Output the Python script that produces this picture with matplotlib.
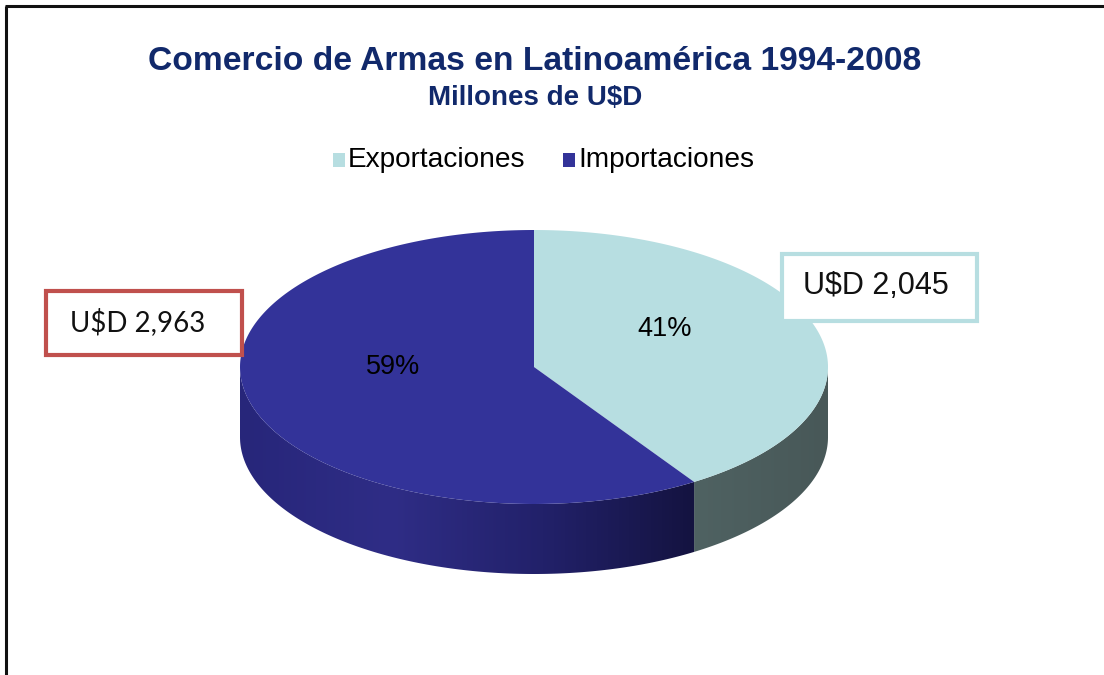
import numpy as np
import matplotlib
matplotlib.use("Agg")
import matplotlib.pyplot as plt
from matplotlib.patches import Polygon, Rectangle
from matplotlib.colors import LinearSegmentedColormap

# ---- data ----
categories = ["Exportaciones", "Importaciones"]
values = [2045, 2963]
value_labels = ["U$D 2,045", "U$D 2,963"]
title = "Comercio de Armas en Latinoamérica 1994-2008"
subtitle = "Millones de U$D"

top_colors = ["#B7DEE1", "#333399"]

W, H = 1104, 675
fig = plt.figure(figsize=(W / 100, H / 100), dpi=100)
ax = fig.add_axes([0, 0, 1, 1])
ax.set_xlim(0, W)
ax.set_ylim(0, H)
ax.axis("off")

# frame (left and top only)
ax.plot([6, 6], [0, H - 6], color="#111111", lw=2.2, solid_capstyle="butt")
ax.plot([5, W], [H - 6, H - 6], color="#111111", lw=2.2, solid_capstyle="butt")

# pie geometry
cx, cy = 534, H - 367
a, b = 294, 137
depth = 70

total = sum(values)
fracs = [v / total for v in values]
# start at 12 o'clock, clockwise
angles = []
start = 90.0
for f in fracs:
    end = start - f * 360.0
    angles.append((end, start))  # ccw range [end, start]
    start = end


def ell(t_deg, dy=0.0):
    t = np.radians(t_deg)
    return cx + a * np.cos(t), cy + b * np.sin(t) - dy


def norm_range(lo, hi):
    segs = []
    for shift in (-360, 0, 360):
        l, h = lo + shift, hi + shift
        l2, h2 = max(l, -180), min(h, 0)
        if h2 > l2:
            segs.append((l2, h2))
    return segs


side_cmaps = [
    LinearSegmentedColormap.from_list("s0", ["#4F6262", "#485858"]),
    LinearSegmentedColormap.from_list("s1", ["#27267A", "#2F2D86", "#22216A", "#141340"]),
]

for i, (lo, hi) in enumerate(angles):
    for (l, h) in norm_range(lo, hi):
        ts = np.linspace(l, h, 200)
        top = np.array([ell(t) for t in ts])
        bot = np.array([ell(t, depth) for t in ts[::-1]])
        pts = np.vstack([top, bot])
        poly = Polygon(pts, closed=True, facecolor="none", edgecolor="none")
        ax.add_patch(poly)
        x0, x1 = pts[:, 0].min(), pts[:, 0].max()
        y0, y1 = pts[:, 1].min(), pts[:, 1].max()
        grad = np.linspace(0, 1, 256).reshape(1, -1)
        im = ax.imshow(grad, cmap=side_cmaps[i], extent=[x0, x1, y0, y1],
                       aspect="auto", origin="lower", zorder=2)
        im.set_clip_path(poly)

for i, (lo, hi) in enumerate(angles):
    ts = np.linspace(lo, hi, 300)
    pts = np.vstack([[cx, cy], np.array([ell(t) for t in ts])])
    ax.add_patch(Polygon(pts, closed=True, facecolor=top_colors[i],
                         edgecolor="none", zorder=3))

# percentage labels
pct_pos = [(665, H - 329), (393, H - 367)]
for i, f in enumerate(fracs):
    ax.text(pct_pos[i][0], pct_pos[i][1], f"{f*100:.0f}%", ha="center", va="center",
            fontsize=19.5, family="Liberation Sans", color="black", zorder=5)

# titles
ax.text(535, H - 61, title, ha="center", va="center", fontsize=24.2,
        fontweight="bold", family="Liberation Sans", color="#11296B")
ax.text(535, H - 98, subtitle, ha="center", va="center", fontsize=20,
        fontweight="bold", family="Liberation Sans", color="#11296B")

# legend
leg_items = [(333, categories[0], top_colors[0]), (563, categories[1], top_colors[1])]
for x, lab, c in leg_items:
    ax.add_patch(Rectangle((x, H - 167), 12, 14, facecolor=c, edgecolor="none"))
    ax.text(x + 15, H - 160, lab, ha="left", va="center", fontsize=20.2,
            family="Liberation Sans", color="black")

# value boxes
ax.add_patch(Rectangle((46, H - 355), 196, 64, facecolor="white",
                       edgecolor="#C0504D", lw=3, zorder=6))
ax.text(138, H - 322, value_labels[1], ha="center", va="center", fontsize=20,
        family="Lato", color="#111111", zorder=7)
ax.add_patch(Rectangle((782, H - 321), 195, 67, facecolor="white",
                       edgecolor="#B7DEE1", lw=3, zorder=6))
ax.text(876, H - 286, value_labels[0], ha="center", va="center", fontsize=22,
        family="Liberation Sans", color="#111111", zorder=7)

fig.savefig("out.png", dpi=100)
